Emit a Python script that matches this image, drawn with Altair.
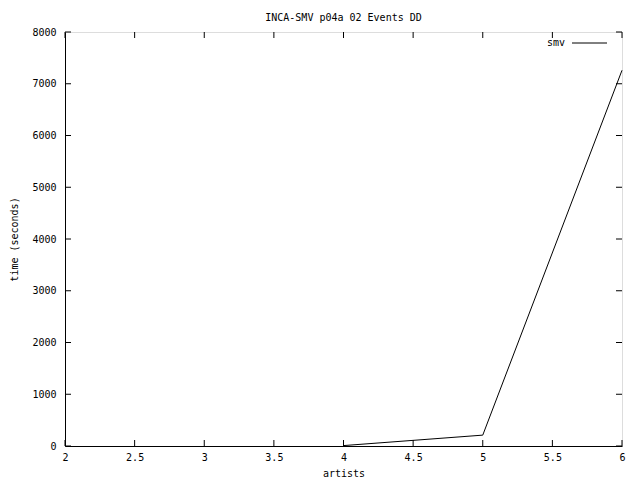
import altair as alt
import pandas as pd

artists = [4, 5, 6]
times = [8, 210, 7260]
x_ticks = [2, 2.5, 3, 3.5, 4, 4.5, 5, 5.5, 6]
y_ticks = [0, 1000, 2000, 3000, 4000, 5000, 6000, 7000, 8000]

W, H = 557, 414
FONT = "DejaVu Sans Mono"

df = pd.DataFrame({"artists": artists, "time": times, "series": ["smv"] * len(artists)})
xt = pd.DataFrame({"v": x_ticks})
yt = pd.DataFrame({"v": y_ticks})

xs = alt.Scale(domain=[2, 6], nice=False, zero=False)
ys = alt.Scale(domain=[0, 8000], nice=False)

line = alt.Chart(df).mark_line(color="black", strokeWidth=1).encode(
    x=alt.X("artists:Q", scale=xs, title="artists",
            axis=alt.Axis(values=x_ticks, tickSize=0, grid=False, labelPadding=6,
                          domainColor="black", labelFont=FONT, labelFontSize=10,
                          labelColor="black", titleFont=FONT, titleFontSize=10,
                          titleFontWeight="normal", titleColor="black", titlePadding=6,
                          labelFlush=False, format="~g")),
    y=alt.Y("time:Q", scale=ys, title="time (seconds)",
            axis=alt.Axis(values=y_ticks, tickSize=0, grid=False, labelPadding=9,
                          domainColor="black", labelFont=FONT, labelFontSize=10,
                          labelColor="black", titleFont=FONT, titleFontSize=10,
                          titleFontWeight="normal", titleColor="black", titlePadding=12,
                          format="d")),
)

xb = alt.Chart(xt).mark_rule(color="black").encode(
    x=alt.X("v:Q", scale=xs), y=alt.value(H), y2=alt.value(H - 6))
xtop = alt.Chart(xt).mark_rule(color="black").encode(
    x=alt.X("v:Q", scale=xs), y=alt.value(0), y2=alt.value(6))
yl = alt.Chart(yt).mark_rule(color="black").encode(
    y=alt.Y("v:Q", scale=ys), x=alt.value(0), x2=alt.value(6))
yr = alt.Chart(yt).mark_rule(color="black").encode(
    y=alt.Y("v:Q", scale=ys), x=alt.value(W), x2=alt.value(W - 6))

leg_text = alt.Chart(pd.DataFrame({"s": ["smv"]})).mark_text(
    font=FONT, fontSize=10, align="right", baseline="middle", color="black"
).encode(text="s:N", x=alt.value(500), y=alt.value(11))
leg_line = alt.Chart(pd.DataFrame({"s": ["smv"]})).mark_rule(color="black").encode(
    x=alt.value(507), x2=alt.value(542), y=alt.value(11))

chart = alt.layer(line, xb, xtop, yl, yr, leg_text, leg_line).properties(
    width=W, height=H,
    title=alt.TitleParams("INCA-SMV p04a 02 Events DD", font=FONT, fontSize=10,
                          fontWeight="normal", color="black", offset=4),
    autosize=alt.AutoSizeParams(type="none"),
    padding={"left": 57, "top": 24, "right": 10, "bottom": 34},
).configure_view(stroke="black", strokeWidth=1).configure(background="white")

chart.save("out.html", embed_options={"renderer": "svg", "actions": False})
